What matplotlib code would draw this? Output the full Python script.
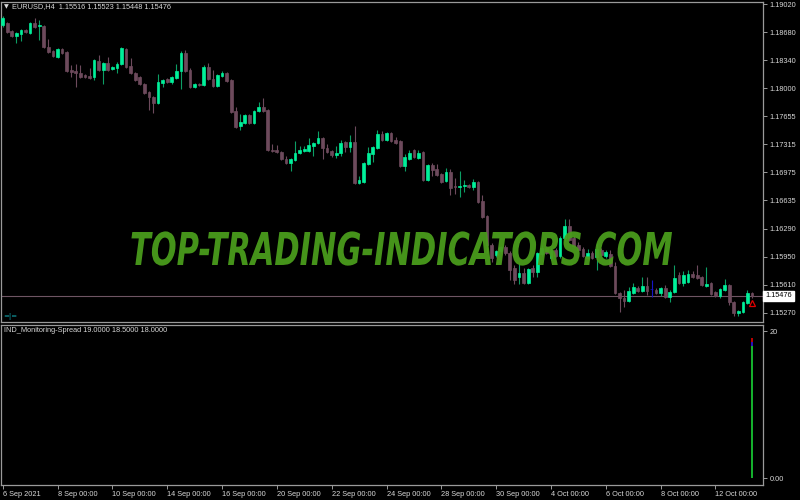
import numpy as np
import matplotlib
matplotlib.use("Agg")
import matplotlib.pyplot as plt
from matplotlib import patheffects as pe
from matplotlib.transforms import Affine2D, blended_transform_factory

plt.rcParams['font.family'] = ['Liberation Sans', 'DejaVu Sans']

# EURUSD H4, 6 Sep 2021 .. 13 Oct 2021
opens = [1.18765, 1.18790, 1.18693, 1.18632, 1.18656, 1.18705, 1.18668, 1.18790, 1.18753, 1.18753,
         1.18498, 1.18450, 1.18377, 1.18474, 1.18438, 1.18219, 1.18207, 1.18183, 1.18158, 1.18146,
         1.18134, 1.18328, 1.18219, 1.18304, 1.18231, 1.18243, 1.18292, 1.18474, 1.18268, 1.18183,
         1.18134, 1.18049, 1.17952, 1.17891, 1.17818, 1.18061, 1.18110, 1.18073, 1.18122, 1.18207,
         1.18426, 1.18219, 1.18013, 1.18049, 1.18037, 1.18255, 1.18110, 1.18025, 1.18146, 1.18183,
         1.18098, 1.17721, 1.17539, 1.17575, 1.17673, 1.17575, 1.17721, 1.17770, 1.17733, 1.17248,
         1.17248, 1.17223, 1.17138, 1.17090, 1.17126, 1.17211, 1.17235, 1.17235, 1.17296, 1.17332,
         1.17393, 1.17272, 1.17235, 1.17187, 1.17211, 1.17345, 1.17284, 1.17345, 1.16847, 1.16859,
         1.17078, 1.17199, 1.17272, 1.17442, 1.17369, 1.17454, 1.17369, 1.17357, 1.17053, 1.17138,
         1.17248, 1.17150, 1.17223, 1.16883, 1.17066, 1.17017, 1.16956, 1.16871, 1.16980, 1.16810,
         1.16798, 1.16810, 1.16823, 1.16798, 1.16859, 1.16628, 1.16446, 1.16094, 1.15973, 1.16021,
         1.16070, 1.15997, 1.15815, 1.15705, 1.15754, 1.15633, 1.15815, 1.15766, 1.15985, 1.16058,
         1.15936, 1.16033, 1.15960, 1.16179, 1.16325, 1.16179, 1.16094, 1.16045, 1.15936, 1.15997,
         1.15948, 1.16033, 1.15960, 1.15985, 1.15839, 1.15512, 1.15451, 1.15414, 1.15512, 1.15572,
         1.15536, 1.15597, 1.15560, 1.15548, 1.15512, 1.15572, 1.15463, 1.15524, 1.15730, 1.15633,
         1.15645, 1.15742, 1.15730, 1.15705, 1.15597, 1.15633, 1.15524, 1.15475, 1.15548, 1.15609,
         1.15402, 1.15269, 1.15281, 1.15390, 1.15516]
highs = [1.18875, 1.18802, 1.18705, 1.18680, 1.18717, 1.18717, 1.18802, 1.18850, 1.18826, 1.18765,
         1.18595, 1.18462, 1.18486, 1.18486, 1.18450, 1.18280, 1.18292, 1.18280, 1.18170, 1.18243,
         1.18353, 1.18401, 1.18316, 1.18377, 1.18268, 1.18316, 1.18498, 1.18486, 1.18365, 1.18195,
         1.18146, 1.18061, 1.17964, 1.17903, 1.18170, 1.18110, 1.18122, 1.18146, 1.18292, 1.18450,
         1.18462, 1.18243, 1.18061, 1.18061, 1.18280, 1.18304, 1.18219, 1.18170, 1.18207, 1.18195,
         1.18110, 1.17770, 1.17685, 1.17685, 1.17685, 1.17733, 1.17830, 1.17879, 1.17745, 1.17320,
         1.17308, 1.17235, 1.17175, 1.17150, 1.17357, 1.17296, 1.17296, 1.17393, 1.17345, 1.17478,
         1.17405, 1.17320, 1.17248, 1.17296, 1.17369, 1.17357, 1.17430, 1.17539, 1.16932, 1.17102,
         1.17284, 1.17296, 1.17490, 1.17478, 1.17466, 1.17466, 1.17405, 1.17369, 1.17199, 1.17248,
         1.17260, 1.17248, 1.17235, 1.17078, 1.17090, 1.17078, 1.16968, 1.17029, 1.17017, 1.16908,
         1.16993, 1.16883, 1.16835, 1.16896, 1.16871, 1.16701, 1.16458, 1.16118, 1.16033, 1.16082,
         1.16094, 1.16021, 1.15851, 1.15876, 1.15815, 1.15815, 1.15851, 1.16009, 1.16094, 1.16082,
         1.16058, 1.16058, 1.16203, 1.16410, 1.16410, 1.16203, 1.16130, 1.16070, 1.16045, 1.16021,
         1.16118, 1.16058, 1.16033, 1.16033, 1.15888, 1.15524, 1.15548, 1.15584, 1.15633, 1.15597,
         1.15705, 1.15705, 1.15669, 1.15572, 1.15584, 1.15609, 1.15548, 1.15851, 1.15766, 1.15778,
         1.15790, 1.15778, 1.15851, 1.15718, 1.15827, 1.15645, 1.15536, 1.15572, 1.15682, 1.15620,
         1.15414, 1.15305, 1.15414, 1.15548, 1.15523]
lows = [1.18741, 1.18668, 1.18620, 1.18547, 1.18571, 1.18668, 1.18656, 1.18729, 1.18583, 1.18486,
        1.18426, 1.18377, 1.18365, 1.18413, 1.18195, 1.18134, 1.18013, 1.18122, 1.18122, 1.18110,
        1.18098, 1.18207, 1.18049, 1.18207, 1.18219, 1.18183, 1.18280, 1.18243, 1.18170, 1.18085,
        1.18037, 1.17928, 1.17733, 1.17697, 1.17806, 1.18013, 1.18061, 1.18049, 1.18110, 1.17988,
        1.18195, 1.18001, 1.18001, 1.18025, 1.18025, 1.18098, 1.18013, 1.18013, 1.18134, 1.18073,
        1.17697, 1.17515, 1.17490, 1.17563, 1.17563, 1.17563, 1.17709, 1.17709, 1.17235, 1.17223,
        1.17211, 1.17126, 1.17078, 1.16993, 1.17114, 1.17199, 1.17223, 1.17223, 1.17175, 1.17320,
        1.17138, 1.17211, 1.17163, 1.17150, 1.17175, 1.17223, 1.17223, 1.16835, 1.16835, 1.16847,
        1.17066, 1.17102, 1.17260, 1.17357, 1.17357, 1.17345, 1.17320, 1.17041, 1.16993, 1.17126,
        1.17150, 1.17138, 1.16871, 1.16871, 1.16932, 1.16932, 1.16847, 1.16859, 1.16701, 1.16713,
        1.16677, 1.16737, 1.16786, 1.16762, 1.16604, 1.16422, 1.15997, 1.15888, 1.15948, 1.15997,
        1.15973, 1.15669, 1.15620, 1.15620, 1.15620, 1.15620, 1.15705, 1.15705, 1.15960, 1.15985,
        1.15912, 1.15948, 1.15936, 1.16143, 1.16143, 1.16070, 1.16021, 1.15948, 1.15924, 1.15924,
        1.15790, 1.15960, 1.15936, 1.15827, 1.15500, 1.15281, 1.15341, 1.15402, 1.15500, 1.15524,
        1.15524, 1.15488, 1.15463, 1.15500, 1.15475, 1.15451, 1.15402, 1.15512, 1.15620, 1.15597,
        1.15633, 1.15694, 1.15682, 1.15597, 1.15584, 1.15488, 1.15463, 1.15451, 1.15536, 1.15366,
        1.15232, 1.15232, 1.15269, 1.15378, 1.15448]
closes = [1.18850, 1.18680, 1.18632, 1.18668, 1.18705, 1.18680, 1.18790, 1.18741, 1.18765, 1.18498,
          1.18438, 1.18389, 1.18474, 1.18426, 1.18207, 1.18195, 1.18183, 1.18134, 1.18134, 1.18122,
          1.18340, 1.18219, 1.18304, 1.18219, 1.18255, 1.18292, 1.18486, 1.18255, 1.18183, 1.18098,
          1.18049, 1.17940, 1.17891, 1.17818, 1.18073, 1.18098, 1.18073, 1.18134, 1.18207, 1.18426,
          1.18207, 1.18013, 1.18049, 1.18037, 1.18255, 1.18110, 1.18025, 1.18158, 1.18183, 1.18085,
          1.17709, 1.17527, 1.17588, 1.17673, 1.17575, 1.17721, 1.17770, 1.17721, 1.17248, 1.17235,
          1.17223, 1.17138, 1.17090, 1.17138, 1.17211, 1.17248, 1.17260, 1.17308, 1.17332, 1.17393,
          1.17272, 1.17223, 1.17187, 1.17211, 1.17332, 1.17284, 1.17345, 1.16847, 1.16883, 1.17090,
          1.17211, 1.17284, 1.17442, 1.17369, 1.17454, 1.17357, 1.17332, 1.17053, 1.17163, 1.17211,
          1.17163, 1.17211, 1.16883, 1.17066, 1.17005, 1.16944, 1.16859, 1.16980, 1.16786, 1.16798,
          1.16810, 1.16823, 1.16798, 1.16859, 1.16616, 1.16434, 1.16094, 1.15936, 1.16021, 1.16070,
          1.15997, 1.15790, 1.15669, 1.15754, 1.15633, 1.15803, 1.15766, 1.15997, 1.16058, 1.15997,
          1.16033, 1.15960, 1.16179, 1.16325, 1.16155, 1.16082, 1.16033, 1.15960, 1.15997, 1.15936,
          1.16045, 1.15973, 1.16009, 1.15839, 1.15512, 1.15451, 1.15414, 1.15536, 1.15584, 1.15536,
          1.15597, 1.15536, 1.15560, 1.15512, 1.15572, 1.15463, 1.15524, 1.15694, 1.15633, 1.15730,
          1.15742, 1.15705, 1.15694, 1.15609, 1.15620, 1.15500, 1.15475, 1.15560, 1.15609, 1.15402,
          1.15269, 1.15293, 1.15402, 1.15512, 1.15476]

price_ticks = [1.19020, 1.18680, 1.18340, 1.18000, 1.17655, 1.17315, 1.16975,
               1.16635, 1.16290, 1.15950, 1.15610, 1.15270]
date_labels = ['6 Sep 2021', '8 Sep 00:00', '10 Sep 00:00', '14 Sep 00:00', '16 Sep 00:00',
               '20 Sep 00:00', '22 Sep 00:00', '24 Sep 00:00', '28 Sep 00:00', '30 Sep 00:00',
               '4 Oct 00:00', '6 Oct 00:00', '8 Oct 00:00', '12 Oct 00:00']
bars_per_label = 12  # two trading days of H4 bars

spread_values = [19.0, 18.5, 18.0]
spread_colors = ['#e00000', '#1010e0', '#10d010']

BG = 'black'
FG = '#d8d8d8'
FRAME = '#9a9a9a'
BULL = '#00f09a'
BULL_WICK = '#0c9e64'
BEAR = '#6d4a5c'
DOJI = '#1515c8'
FS = 5.35

o = np.array(opens)
h = np.array(highs)
l = np.array(lows)
c = np.array(closes)
x = np.arange(len(o))

fig = plt.figure(figsize=(8, 5), dpi=100, facecolor=BG)
ax = fig.add_axes([1 / 800, 1 - 322 / 500, 762 / 800, 320 / 500], facecolor=BG)
ax2 = fig.add_axes([1 / 800, 1 - 485 / 500, 762 / 800, 160 / 500], facecolor=BG)

body_col = np.where(c > o, BULL, np.where(c < o, BEAR, DOJI))
wick_col = np.where(c > o, BULL_WICK, np.where(c < o, BEAR, DOJI))

ax.vlines(x, l, h, colors=wick_col, linewidth=0.8, zorder=2)
ax.bar(x, np.abs(c - o), bottom=np.minimum(o, c), width=0.6, color=body_col,
       edgecolor=body_col, linewidth=0.5, zorder=3)

ax.axhline(c[-1], color='#6e5563', linewidth=0.8, zorder=1)
ax.plot(x[-1], l[-1] - 0.0006, marker='^', markersize=4, mfc='none', mec='#e00000',
        mew=0.9, zorder=4)

ax.set_xlim(-0.37, 166.4)
ax.set_ylim(1.151590, 1.190447)
ax.set_xticks([])
ax.yaxis.tick_right()
ax.set_yticks(price_ticks)
ax.set_yticklabels([f'{p:.5f}' for p in price_ticks])
ax.tick_params(axis='y', direction='out', length=3, width=0.7, color=FRAME,
               labelsize=FS, labelcolor=FG, pad=1.5)

bt = blended_transform_factory(ax.transAxes, ax.transData)
ax.text(1.003, c[-1], f'{c[-1]:.5f}', transform=bt, ha='left', va='center', fontsize=FS,
        color='black', clip_on=False, zorder=6,
        bbox=dict(boxstyle='square,pad=0.25', fc='white', ec='white'))

# spread histogram on the last bar
for val, col in zip(spread_values, spread_colors):
    ax2.vlines(x[-1], 0, val, colors=col, linewidth=1.2)
ax2.set_xlim(ax.get_xlim())
ax2.set_ylim(-0.95, 20.82)
ax2.yaxis.tick_right()
ax2.set_yticks([0, 20])
ax2.set_yticklabels(['0.00', '20'])
ax2.set_xticks(np.arange(len(date_labels)) * bars_per_label)
ax2.set_xticklabels(date_labels)
for lbl in ax2.get_xticklabels():
    lbl.set_ha('left')
ax2.tick_params(direction='out', length=3, width=0.7, color=FRAME,
                labelsize=FS, labelcolor=FG, pad=1.5)

for a in (ax, ax2):
    for s in a.spines.values():
        s.set_color(FRAME)
        s.set_linewidth(0.9)

fig.text(4 / 800, 1 - 7 / 500, '\u25bc', color=FG, fontsize=4.5, va='center',
         family='DejaVu Sans')
fig.text(12 / 800, 1 - 7 / 500, 'EURUSD,H4  1.15516 1.15523 1.15448 1.15476',
         color=FG, fontsize=FS, va='center')
fig.text(4 / 800, 1 - 331 / 500, 'IND_Monitoring-Spread 19.0000 18.5000 18.0000',
         color=FG, fontsize=FS, va='center')
fig.text(3 / 800, 1 - 316 / 500, '=|=', color='#12a0a8', fontsize=5, va='center',
         family='DejaVu Sans')


class Stretch(pe.AbstractPathEffect):
    """Scale a text around an anchor point given in display coords."""

    def __init__(self, sx, sy, anchor):
        super().__init__()
        self.sx, self.sy = sx, sy
        self.anchor = anchor

    def draw_path(self, renderer, gc, tpath, affine, rgbFace=None):
        cx, cy = self.anchor
        tr = Affine2D().translate(-cx, -cy).scale(self.sx, self.sy).translate(cx, cy)
        renderer.draw_path(gc, tpath, affine + tr, rgbFace)


wm_x, wm_y = 401 / 800, 235 / 500
wm_size = 21.0
wm = fig.text(wm_x, wm_y, 'TOP-TRADING-INDICATORS.COM', color='#4a9c1c', fontsize=wm_size,
              family='DejaVu Sans', weight='bold', style='italic', ha='center',
              va='baseline', zorder=10, alpha=0.95)
fig.canvas.draw()
wm_width = wm.get_window_extent().width
wm.set_path_effects([Stretch(542 / wm_width, 32.6 / wm_size,
                             tuple(fig.transFigure.transform((wm_x, wm_y))))])

fig.savefig('out.png', dpi=100, facecolor=BG)
